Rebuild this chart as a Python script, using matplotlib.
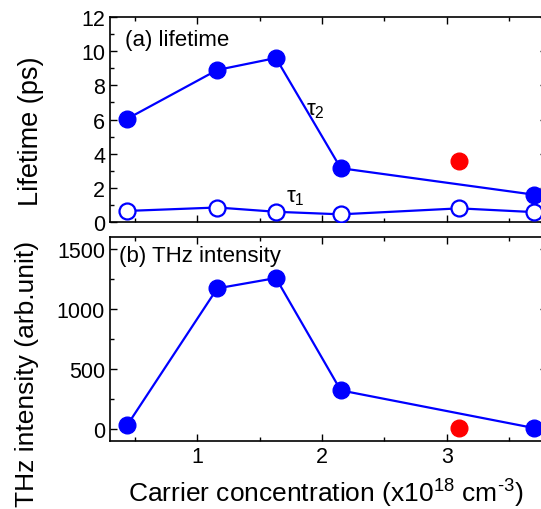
import numpy as np
import matplotlib
matplotlib.use("Agg")
import matplotlib.pyplot as plt
from matplotlib.ticker import MultipleLocator

plt.rcParams["font.family"] = ["Liberation Sans", "DejaVu Sans"]
plt.rcParams["mathtext.fontset"] = "custom"
plt.rcParams["mathtext.rm"] = "Liberation Sans"
plt.rcParams["mathtext.it"] = "Liberation Sans:italic"
plt.rcParams["mathtext.default"] = "rm"

# carrier concentration (x10^18 cm^-3)
conc = [0.44, 1.16, 1.63, 2.15, 3.10, 3.70]
tau2 = [6.05, 8.9, 9.6, 3.15, None, 1.6]
tau1 = [0.65, 0.85, 0.6, 0.45, 0.8, 0.58]
thz = [35, 1172, 1258, 322, None, 8]

# outlier sample (red)
red_conc = 3.10
red_tau = 3.55
red_thz = 8

BLUE = "#0000ff"
RED = "#ff0000"


def clean(xs, ys):
    pts = [(x, y) for x, y in zip(xs, ys) if y is not None]
    return [p[0] for p in pts], [p[1] for p in pts]


fig = plt.figure(figsize=(5.41, 5.10), dpi=100)
ax1 = fig.add_axes([0.2033, 0.5627, 0.807, 0.402])
ax2 = fig.add_axes([0.2033, 0.1333, 0.807, 0.400])

# (a) lifetime
x, y = clean(conc, tau2)
ax1.plot(x, y, "-o", color=BLUE, lw=1.6, ms=12, mfc=BLUE, mec=BLUE, zorder=3)
ax1.plot(conc, tau1, "-o", color=BLUE, lw=1.6, ms=11.5, mfc="white", mec=BLUE,
         mew=1.6, zorder=3)
ax1.plot([red_conc], [red_tau], "o", color=RED, ms=12, zorder=4)
ax1.text(1.87, 6.6, "τ$_2$", fontsize=16, ha="left", va="center")
ax1.text(1.71, 1.5, "τ$_1$", fontsize=16, ha="left", va="center")
ax1.text(0.034, 0.89, "(a) lifetime", transform=ax1.transAxes, fontsize=16,
         ha="left", va="center")
ax1.set_ylim(0, 12)
ax1.yaxis.set_major_locator(MultipleLocator(2))
ax1.yaxis.set_minor_locator(MultipleLocator(1))
ax1.set_ylabel("Lifetime (ps)", fontsize=19.5, va="center")
ax1.yaxis.set_label_coords(-0.18, 0.449)
ax1.tick_params(labelbottom=False)

# (b) THz intensity
x, y = clean(conc, thz)
ax2.plot(x, y, "-o", color=BLUE, lw=1.6, ms=12, mfc=BLUE, mec=BLUE, zorder=3)
ax2.plot([red_conc], [red_thz], "o", color=RED, ms=12, zorder=4)
ax2.text(0.02, 0.907, "(b) THz intensity", transform=ax2.transAxes, fontsize=16,
         ha="left", va="center")
ax2.set_ylim(-100, 1600)
ax2.yaxis.set_major_locator(MultipleLocator(500))
ax2.yaxis.set_minor_locator(MultipleLocator(250))
ax2.set_ylabel("THz intensity (arb.unit)", fontsize=19, va="center")
ax2.yaxis.set_label_coords(-0.191, 0.336)
ax2.set_xlabel("Carrier concentration (x10$^{18}$ cm$^{\u2010 3}$)", fontsize=19,
               va="center")
ax2.xaxis.set_label_coords(0.494, -0.252)

for ax in (ax1, ax2):
    ax.set_xlim(0.3, 3.8)
    ax.xaxis.set_major_locator(MultipleLocator(1))
    ax.xaxis.set_minor_locator(MultipleLocator(0.5))
    ax.tick_params(which="both", direction="in", top=True, right=True,
                   labelsize=15.5, width=1.0)
    ax.tick_params(which="major", length=5)
    ax.tick_params(which="minor", length=3)
    for s in ax.spines.values():
        s.set_linewidth(1.2)

fig.savefig("out.png", dpi=100)
